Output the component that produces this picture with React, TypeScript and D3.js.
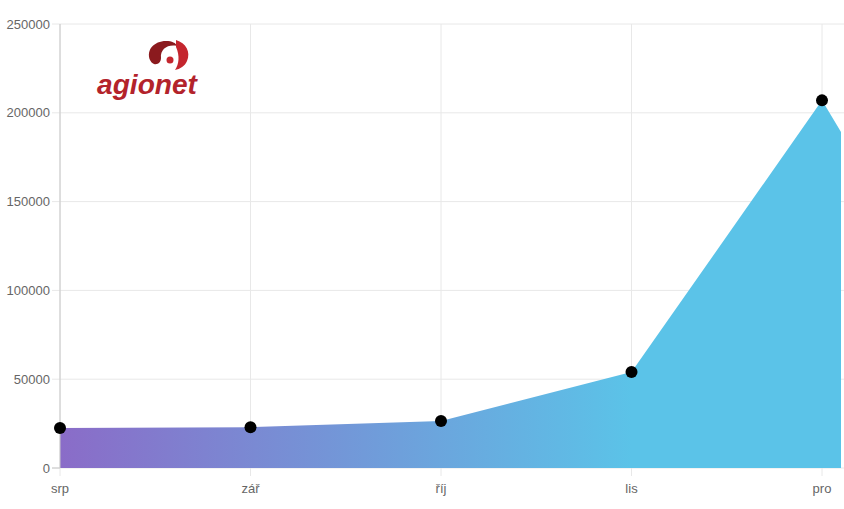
import React from "react";
import * as d3 from "d3";

const categories = ["srp", "zář", "říj", "lis", "pro", "led"];
const values = [22500, 23000, 26500, 54000, 207000, 28000];
const yTicks = [0, 50000, 100000, 150000, 200000, 250000];

const W = 844;
const H = 509;
const left = 60;
const top = 24;
const bottom = 468;
const step = 190.5;
const clipRight = 841;

export default function App() {
  const x = d3
    .scalePoint<string>()
    .domain(categories)
    .range([left, left + step * (categories.length - 1)]);
  const y = d3.scaleLinear().domain([0, 250000]).range([bottom, top]);

  const area = d3
    .area<number>()
    .x((_, i) => x(categories[i]) as number)
    .y0(y(0))
    .y1((d) => y(d));

  const visibleCats = categories.slice(0, 5);

  return (
    <svg
      width={W}
      height={H}
      style={{ position: "absolute", left: 0, top: 0, fontFamily: "Liberation Sans, Arial, sans-serif" }}
    >
      <defs>
        <linearGradient id="g" gradientUnits="userSpaceOnUse" x1={left} x2={x("lis")} y1={0} y2={0}>
          <stop offset="0" stopColor="#8a6cc8" />
          <stop offset="1" stopColor="#5bc3e8" />
        </linearGradient>
        <clipPath id="plot">
          <rect x={left} y={0} width={clipRight - left} height={bottom} />
        </clipPath>
      </defs>
      <rect width={W} height={H} fill="#fff" />
      {yTicks.map((t) => (
        <line key={"h" + t} x1={left - 8} x2={W} y1={y(t)} y2={y(t)} stroke="#e8e8e8" strokeWidth={1} />
      ))}
      {visibleCats.map((c) => (
        <line key={"v" + c} x1={x(c)} x2={x(c)} y1={top} y2={bottom + 8} stroke="#e8e8e8" strokeWidth={1} />
      ))}
      <path d={area(values) as string} fill="url(#g)" clipPath="url(#plot)" />
      <line x1={left} x2={left} y1={top} y2={bottom} stroke="#c8c8c8" strokeWidth={1} />
      <line x1={left - 8} x2={left} y1={bottom} y2={bottom} stroke="#c8c8c8" strokeWidth={1} />
      {yTicks.map((t) => (
        <text key={"yt" + t} x={50} y={y(t)} dy="0.35em" textAnchor="end" fontSize={13} fill="#666">
          {t}
        </text>
      ))}
      {visibleCats.map((c) => (
        <text key={"xt" + c} x={x(c)} y={493} textAnchor="middle" fontSize={13} fill="#666">
          {c}
        </text>
      ))}
      {values.map((v, i) =>
        (x(categories[i]) as number) < clipRight ? (
          <circle key={"p" + i} cx={x(categories[i])} cy={y(v)} r={6} fill="#000" />
        ) : null
      )}
      <g>
        <path d="M150,60 C146,50 154,41 166,41 C172,41 176,43 177,46 C168,44 160,49 161,58 C161,62 158,65 154,64 C152,63 151,62 150,60 Z" fill="#8b1a1e" />
        <path d="M176,40 C186,43 191,52 187,61 C185,66 180,69 175,70 C179,64 180,56 176,47 Z" fill="#c4262e" />
        <circle cx={170} cy={60} r={3.5} fill="#c4262e" />
        <text x={97} y={94} fontSize={27} fontWeight="bold" fontStyle="italic" fill="#b3232b" fontFamily="Liberation Sans, sans-serif" textLength={100} lengthAdjust="spacingAndGlyphs">
          agionet
        </text>
      </g>
    </svg>
  );
}
